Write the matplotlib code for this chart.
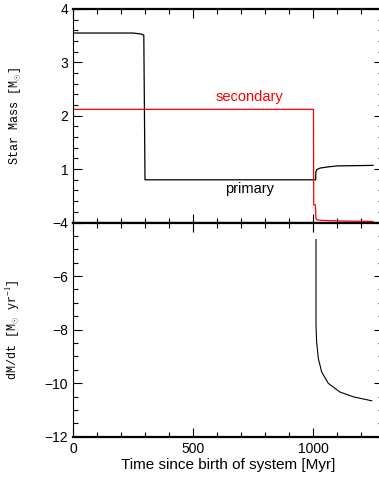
import numpy as np
import matplotlib.pyplot as plt
from matplotlib.ticker import MultipleLocator

# Star masses [Msun] vs time [Myr]
t_primary = [0, 250, 285, 295, 300, 1011, 1012, 1016, 1030, 1060, 1100, 1250]
m_primary = [3.55, 3.55, 3.53, 3.51, 0.80, 0.80, 0.95, 0.99, 1.02, 1.04, 1.06, 1.07]

t_secondary = [0, 1002, 1003, 1010, 1012, 1016, 1040, 1100, 1250]
m_secondary = [2.12, 2.12, 0.33, 0.33, 0.08, 0.05, 0.04, 0.03, 0.02]

# Mass transfer rate, log10 [Msun/yr]
t_rate = [1012.5, 1012.5, 1012.5, 1015, 1022, 1036, 1064, 1112, 1168, 1245]
log_rate = [-4.64, -6.70, -7.82, -8.45, -9.07, -9.58, -10.01, -10.33, -10.51, -10.66]

plt.rcParams['font.family'] = ['Liberation Sans', 'DejaVu Sans']
plt.rcParams['mathtext.fontset'] = 'custom'
plt.rcParams['mathtext.rm'] = 'Liberation Serif'

fig = plt.figure(figsize=(3.79, 4.83), dpi=100)
x0 = 73 / 379
xmax = 1290
w = (xmax * 0.24) / 379  # 0.24 px per Myr
ax1 = fig.add_axes([x0, 1 - 222.5 / 483, w, 213.5 / 483])
ax2 = fig.add_axes([x0, 1 - 436.7 / 483, w, 214.2 / 483])

ax1.plot(t_primary, m_primary, color="black", lw=0.9)
ax1.plot(t_secondary, m_secondary, color="red", lw=0.9)
ax1.text(737, 2.36, "secondary", color="red", fontsize=10.5, ha="center", va="center")
ax1.text(737, 0.62, "primary", color="black", fontsize=10.5, ha="center", va="center")

ax2.plot(t_rate, log_rate, color="black", lw=0.8)

ax1.set_ylim(0, 4)
ax1.set_yticks([1, 2, 3, 4])
ax1.yaxis.set_minor_locator(MultipleLocator(0.2))
ax2.set_ylim(-12, -4)
ax2.set_yticks([-12, -10, -8, -6, -4])
ax2.yaxis.set_minor_locator(MultipleLocator(0.5))

for ax in (ax1, ax2):
    ax.set_xlim(0, xmax)
    ax.set_xticks([0, 500, 1000])
    ax.xaxis.set_minor_locator(MultipleLocator(100))
    ax.tick_params(which="both", direction="in", top=True, right=True,
                   labelsize=10, width=0.8)
    ax.tick_params(which="major", length=6.5)
    ax.tick_params(which="minor", length=3.5)
    ax.spines["left"].set_linewidth(0.8)
    ax.spines["right"].set_linewidth(0.8)
    ax.spines["top"].set_linewidth(1.6)
    ax.spines["bottom"].set_linewidth(1.6)

ax1.tick_params(labelbottom=False)

ax1.set_ylabel(r"Star Mass [M$_{\odot}$]", family="Liberation Mono", fontsize=8.5)
ax2.set_ylabel(r"dM/dt [M$_{\odot}$ yr$^{-1}$]", family="Liberation Mono", fontsize=8.5)
ax1.yaxis.set_label_coords(-0.163, 0.5)
ax2.yaxis.set_label_coords(-0.163, 0.5)
ax2.set_xlabel("Time since birth of system [Myr]", fontsize=11, labelpad=2)

fig.savefig("out.png", dpi=100)
